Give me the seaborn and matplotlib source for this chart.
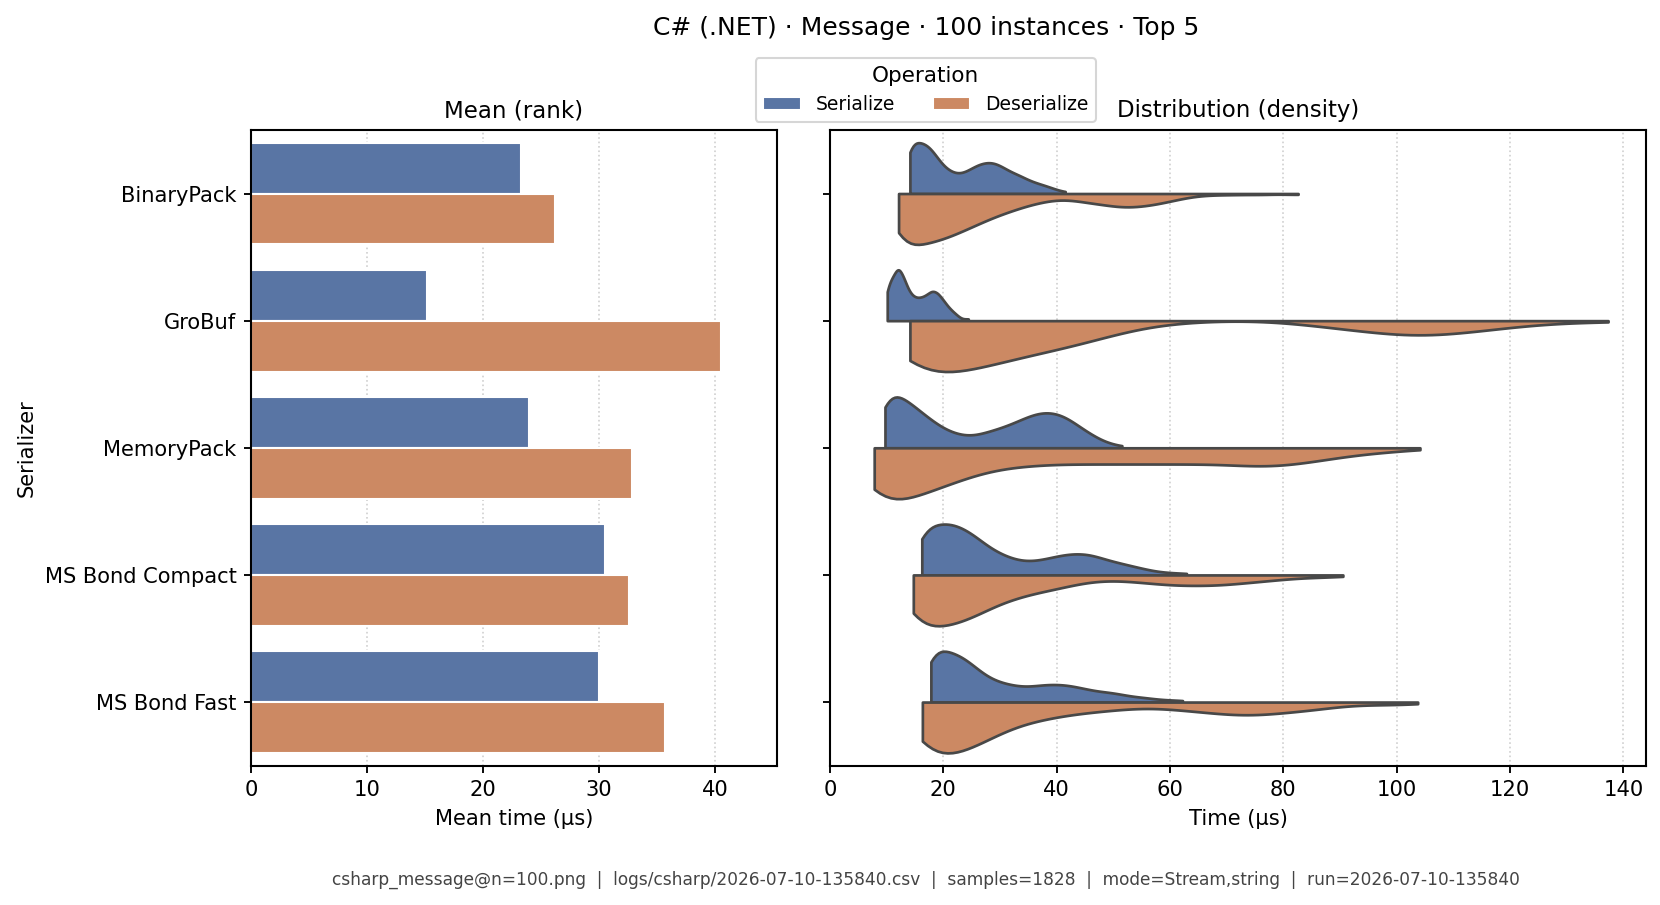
import numpy as np
import pandas as pd
import matplotlib
matplotlib.use("Agg")
import matplotlib.pyplot as plt
import seaborn as sns

serializers = ["BinaryPack", "GroBuf", "MemoryPack", "MS Bond Compact", "MS Bond Fast"]
operations = ["Serialize", "Deserialize"]

# mean time per serializer (µs)
mean_serialize = [23.3, 15.2, 24.0, 30.5, 30.0]
mean_deserialize = [26.2, 40.5, 32.8, 32.6, 35.7]

# timing samples, as value (µs) -> number of runs
binarypack_ser_us = [14.1, 15.5, 17, 18.5, 20, 21.5, 23, 24.5, 26, 27.5, 29, 30.5, 32, 33.5, 35, 36.5, 38, 39.5, 41.5]
binarypack_ser_n = [22, 18, 20, 15, 10, 8, 7, 9, 11, 12, 12, 10, 8, 7, 5, 4, 3, 2, 1]
binarypack_des_us = [12.1, 14, 16, 18, 20, 22, 24, 26, 28, 30, 32, 34, 36, 38, 40, 42, 44, 46, 48, 50,
                     52, 54, 56, 58, 60, 62, 64, 67, 71, 76, 82.6]
binarypack_des_n = [26, 20, 20, 19, 18, 16, 14, 12, 10, 8, 7, 5, 4, 3, 2, 2, 3, 4, 4, 5,
                    6, 5, 5, 4, 3, 2, 1, 1, 1, 1, 1]

grobuf_ser_us = [10.1, 11, 12, 13, 14, 15, 16, 17, 18, 19, 20, 21, 22, 23, 24.4]
grobuf_ser_n = [12, 16, 22, 17, 11, 9, 9, 10, 12, 11, 8, 5, 3, 1, 1]
grobuf_des_us = [14.1, 18, 22, 26, 30, 34, 38, 42, 46, 50, 54, 58, 62, 66, 70, 74, 78, 82, 86, 90,
                 94, 98, 102, 106, 110, 114, 118, 122, 126, 130, 134, 137.3]
grobuf_des_n = [28, 20, 20, 18, 16, 13, 12, 10, 8, 5, 3, 1, 1, 0, 0, 0, 0, 1, 2, 3,
                4, 5, 6, 6, 5, 4, 3, 2, 1, 1, 0, 1]

memorypack_ser_us = [9.7, 11, 12.5, 14, 15.5, 17, 18.5, 20, 21.5, 23, 24.5, 26, 27.5, 29, 30.5, 32,
                     33.5, 35, 36.5, 38, 39.5, 41, 42.5, 44, 45.5, 47, 48.5, 50, 51.5]
memorypack_ser_n = [27, 20, 20, 18, 15, 12, 10, 7, 6, 5, 4, 5, 6, 7, 8, 9,
                    11, 12, 14, 14, 14, 13, 11, 8, 6, 4, 2, 1, 1]
memorypack_des_us = [7.8, 10.5, 13.5, 16.5, 19.5, 22.5, 25.5, 28.5, 31.5, 34.5, 37.5, 40.5, 43.5, 46.5,
                     49.5, 52.5, 55.5, 58.5, 61.5, 64.5, 67.5, 70.5, 73.5, 76.5, 79.5, 82.5, 85.5, 88.5,
                     91.5, 94.5, 97.5, 100.5, 104.1]
memorypack_des_n = [29, 20, 19, 17, 15, 12, 10, 8, 7, 7, 6, 6, 6, 6,
                    6, 6, 6, 6, 6, 6, 6, 6, 7, 7, 7, 6, 5, 4,
                    3, 2, 2, 1, 1]

bond_compact_ser_us = [16.2, 18, 20, 22, 24, 26, 28, 30, 32, 34, 36, 38, 40, 42, 44, 46, 48, 50,
                       52, 54, 56, 58, 60, 62.9]
bond_compact_ser_n = [19, 17, 20, 19, 17, 14, 10, 8, 6, 5, 5, 6, 7, 8, 8, 8, 6, 5,
                      4, 3, 2, 1, 1, 1]
bond_compact_des_us = [14.7, 17, 19.5, 22, 24.5, 27, 29.5, 32, 34.5, 37, 39.5, 42, 44.5, 47, 49.5, 52,
                       54.5, 57, 59.5, 62, 64.5, 67, 69.5, 72, 74.5, 77, 79.5, 82, 84.5, 87, 90.5]
bond_compact_des_n = [24, 19, 20, 19, 17, 14, 11, 9, 8, 6, 6, 4, 3, 2, 2, 2,
                      3, 3, 4, 4, 4, 4, 4, 3, 3, 2, 2, 1, 1, 1, 1]

bond_fast_ser_us = [17.8, 19.5, 21.5, 23.5, 25.5, 27.5, 29.5, 31.5, 33.5, 35.5, 37.5, 39.5, 41.5,
                    43.5, 45.5, 47.5, 49.5, 51.5, 53.5, 55.5, 57.5, 59.5, 62.2]
bond_fast_ser_n = [22, 19, 20, 18, 14, 10, 8, 7, 6, 6, 7, 7, 7,
                   6, 5, 4, 4, 3, 2, 2, 1, 1, 1]
bond_fast_des_us = [16.3, 18.5, 21, 23.5, 26, 28.5, 31, 33.5, 36, 38.5, 41, 43.5, 46, 48.5, 51, 53.5,
                    56, 58.5, 61, 63.5, 66, 68.5, 71, 73.5, 76, 78.5, 81, 83.5, 86, 88.5, 91, 93.5,
                    96, 98.5, 101, 103.7]
bond_fast_des_n = [26, 19, 20, 19, 16, 13, 10, 8, 7, 6, 5, 4, 4, 3, 3, 2,
                   2, 2, 3, 3, 4, 4, 5, 5, 5, 4, 4, 3, 3, 2, 1, 1,
                   1, 1, 1, 1]

footer = ("csharp_message@n=100.png  |  logs/csharp/2026-07-10-135840.csv  |  samples=1828  |  "
          "mode=Stream,string  |  run=2026-07-10-135840")

# long tables for seaborn
means = pd.DataFrame({
    "Serializer": serializers * 2,
    "Operation": ["Serialize"] * 5 + ["Deserialize"] * 5,
    "Mean": mean_serialize + mean_deserialize,
})

groups = [
    ("BinaryPack", "Serialize", binarypack_ser_us, binarypack_ser_n),
    ("BinaryPack", "Deserialize", binarypack_des_us, binarypack_des_n),
    ("GroBuf", "Serialize", grobuf_ser_us, grobuf_ser_n),
    ("GroBuf", "Deserialize", grobuf_des_us, grobuf_des_n),
    ("MemoryPack", "Serialize", memorypack_ser_us, memorypack_ser_n),
    ("MemoryPack", "Deserialize", memorypack_des_us, memorypack_des_n),
    ("MS Bond Compact", "Serialize", bond_compact_ser_us, bond_compact_ser_n),
    ("MS Bond Compact", "Deserialize", bond_compact_des_us, bond_compact_des_n),
    ("MS Bond Fast", "Serialize", bond_fast_ser_us, bond_fast_ser_n),
    ("MS Bond Fast", "Deserialize", bond_fast_des_us, bond_fast_des_n),
]
frames = []
for name, op, us, n in groups:
    t = np.repeat(us, n)
    frames.append(pd.DataFrame({"Serializer": name, "Operation": op, "Time": t}))
samples = pd.concat(frames, ignore_index=True)

sns.set_theme(style="ticks", palette="deep")
plt.rcParams.update({
    "font.family": ["DejaVu Sans"],
    "text.color": "black",
    "axes.labelcolor": "black",
    "axes.edgecolor": "black",
    "axes.linewidth": 1.0,
    "xtick.color": "black",
    "ytick.color": "black",
    "xtick.major.size": 3.5,
    "ytick.major.size": 3.5,
    "xtick.major.width": 0.9,
    "ytick.major.width": 0.9,
})

fig = plt.figure(figsize=(1660 / 150, 905 / 150), dpi=150)
ax1 = fig.add_axes([0.1512, 0.154, 0.3166, 0.7024])
ax2 = fig.add_axes([0.5, 0.154, 0.4916, 0.7024])

sns.barplot(data=means, x="Mean", y="Serializer", hue="Operation", order=serializers,
            hue_order=operations, errorbar=None, ax=ax1)
sns.violinplot(data=samples, x="Time", y="Serializer", hue="Operation", order=serializers,
               hue_order=operations, split=True, inner=None, cut=0, density_norm="width",
               bw_adjust=0.5, linewidth=1.3, linecolor="#484848", legend=False, ax=ax2)

handles, labels = ax1.get_legend_handles_labels()
ax1.legend_.remove()

ax1.set_xlim(0, 45.3)
ax2.set_xlim(0, 144)
ax2.set_xticks(range(0, 141, 20))

for ax in (ax1, ax2):
    ax.grid(axis="x", linestyle=":", color="#d0d0d0", linewidth=0.8)
    ax.set_axisbelow(True)
    ax.tick_params(labelsize=10.1, pad=3.5)

ax1.set_title("Mean (rank)", fontsize=11)
ax2.set_title("Distribution (density)", fontsize=11)
ax1.set_xlabel("Mean time (µs)", fontsize=10.1)
ax2.set_xlabel("Time (µs)", fontsize=10.1)
ax1.set_ylabel("Serializer", fontsize=10.1)
ax2.set_ylabel("")
ax2.tick_params(labelleft=False)

fig.suptitle("C# (.NET) · Message · 100 instances · Top 5", x=0.5577, y=0.982, fontsize=12)
fig.legend(handles, labels, title="Operation", loc="upper center", bbox_to_anchor=(0.5577, 0.946),
           ncol=2, fontsize=9, title_fontsize=10.3, frameon=True)
fig.text(0.5577, 0.028, footer, ha="center", va="center", fontsize=8.2, color="#444444")

fig.savefig("out.png", dpi=150)
